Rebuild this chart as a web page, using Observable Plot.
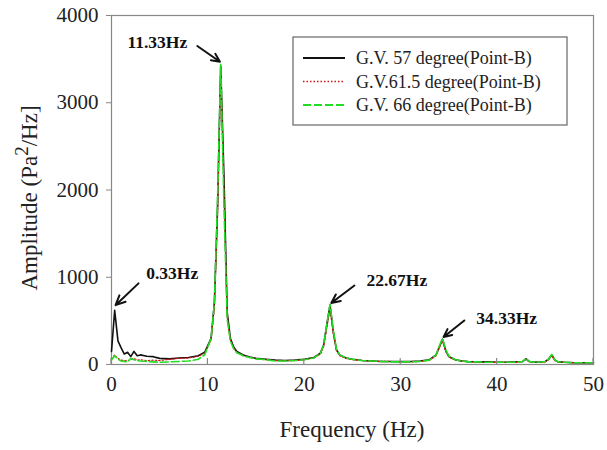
<!DOCTYPE html>
<html><head><meta charset="utf-8">
<script src="https://cdn.jsdelivr.net/npm/d3@7"></script>
<script src="https://cdn.jsdelivr.net/npm/@observablehq/plot@0.6"></script>
<style>body{margin:0;background:#fff} svg text{font-family:"Liberation Serif","Times New Roman",serif}</style>
</head><body><div id="chart"></div>
<script>
const freq = [0,0.33,0.67,1,1.33,1.67,2,2.33,2.67,3,3.67,4.33,5,6,7,8,9,9.67,10.33,10.67,11,11.33,11.67,12,12.33,12.67,13,13.67,14.33,15,16,17,18,19,20,21,21.67,22,22.33,22.67,23,23.33,23.67,24.33,25,26,27,28,29,30,31,32,33,33.67,34,34.33,34.67,35,35.67,36.33,37,38,39,40,41,42,42.67,43,43.33,44,45,45.33,45.67,46,46.33,47,48,49,50];
const amp57 = [150,620,270,190,120,140,90,150,100,110,95,90,70,65,75,80,100,140,300,700,1800,3420,2140,600,300,200,150,110,85,70,60,50,45,50,60,80,130,220,450,680,380,170,110,75,60,45,40,35,35,35,35,40,55,110,200,290,160,90,55,40,35,30,30,25,25,30,35,65,35,25,35,60,110,50,30,25,20,20,20];
const amp615 = [60,110,70,50,45,40,60,70,50,55,45,50,45,60,70,75,95,130,280,650,1700,3400,1950,550,280,190,140,100,80,65,55,45,45,45,55,75,120,200,420,640,360,160,100,70,55,45,40,35,35,30,30,35,50,100,190,270,150,85,50,40,30,30,25,25,25,25,35,60,30,25,30,55,100,45,30,25,20,20,20];
const amp66 = [50,100,60,40,35,30,70,55,45,40,35,30,25,30,35,40,60,110,300,700,1900,3440,1800,520,270,180,135,100,80,65,55,40,40,45,55,75,130,220,460,690,400,180,110,75,60,45,40,35,30,30,30,35,50,110,210,300,170,95,55,40,30,30,25,25,25,25,35,70,35,25,35,60,115,50,30,25,20,20,20];
const seriesNames = ["G.V. 57 degree(Point-B)","G.V.61.5 degree(Point-B)","G.V. 66 degree(Point-B)"];
const xTicks = [0,10,20,30,40,50];
const yTicks = [0,1000,2000,3000,4000];
const annLabels = ["0.33Hz","11.33Hz","22.67Hz","34.33Hz"];
const annTextX = [6.3,4.75,29.6,41.0];
const annTextY = [1040,3690,960,525];
const annFromX = [2.8,8.9,25.2,36.6];
const annFromY = [930,3650,905,505];
const annToX = [0.42,11.25,22.8,34.45];
const annToY = [680,3470,705,315];

const styles = [
  {stroke:"#111", strokeWidth:1.6, dash:null},
  {stroke:"#d01010", strokeWidth:1.2, dash:"1.5,2"},
  {stroke:"#22dd22", strokeWidth:1.6, dash:"8,3"}
];
const allSeries = [amp57, amp615, amp66];
const rows = (vals) => freq.map((f,i)=>({f, a: vals[i]}));
const ann = annLabels.map((t,i)=>({t, tx:annTextX[i], ty:annTextY[i], x1:annFromX[i], y1:annFromY[i], x2:annToX[i], y2:annToY[i]}));

const plot = Plot.plot({
  width: 607, height: 450,
  marginLeft: 111, marginRight: 14, marginTop: 15, marginBottom: 86,
  style: "font-family: 'Liberation Serif', serif; font-size: 21px; color: #222; background: #fff;",
  x: {domain: [0,50]},
  y: {domain: [0,4000]},
  marks: [
    Plot.frame({stroke:"#888", strokeWidth:1.2}),
    ...allSeries.map((vals,k)=>Plot.line(rows(vals), {x:"f", y:"a", stroke:styles[k].stroke, strokeWidth:styles[k].strokeWidth, strokeDasharray:styles[k].dash, curve:"linear"})),
    Plot.axisY({ticks: yTicks, tickFormat: d3.format("d"), tickSize: 5, tickPadding: 8, label: null, stroke:"#888", fontSize: 21}),
    Plot.axisX({ticks: xTicks, tickFormat: d3.format("d"), tickSize: 0, tickPadding: 12, label: null, fontSize: 21}),
    Plot.arrow(ann, {x1:"x1", y1:"y1", x2:"x2", y2:"y2", stroke:"#111", strokeWidth:2, headLength:9, headAngle:50}),
    Plot.text(ann, {x:"tx", y:"ty", text:"t", fontWeight:"bold", fontSize:17.5, fill:"#111"})
  ]
});
document.getElementById("chart").appendChild(plot);

const svg = d3.select(plot);
const xs = plot.scale("x"), ys = plot.scale("y");
// inward x ticks
svg.append("g").selectAll("line").data(xTicks).join("line")
  .attr("x1", d=>xs.apply(d)).attr("x2", d=>xs.apply(d))
  .attr("y1", ys.apply(0)).attr("y2", ys.apply(0)-6)
  .attr("stroke","#888").attr("stroke-width",1.2);

// axis titles
svg.append("text").attr("x", (xs.range[0]+xs.range[1])/2).attr("y", 437)
  .attr("text-anchor","middle").attr("font-size",23).attr("fill","#222")
  .text("Frequency (Hz)");
const yt = svg.append("text").attr("transform","translate(37,198) rotate(-90)")
  .attr("text-anchor","middle").attr("font-size",23).attr("fill","#222");
yt.append("tspan").text("Amplitude (Pa");
yt.append("tspan").attr("dy",-9).attr("font-size",19).text("2");
yt.append("tspan").attr("dy",9).text("/Hz]");

// legend
const lg = svg.append("g").attr("transform","translate(293,37)").attr("text-anchor","start");
lg.append("rect").attr("width",274).attr("height",88).attr("fill","#fff").attr("stroke","#666").attr("stroke-width",1.2);
seriesNames.forEach((name,i)=>{
  const y = 21 + i*23.5;
  lg.append("line").attr("x1",10).attr("x2",52).attr("y1",y).attr("y2",y)
    .attr("stroke",styles[i].stroke).attr("stroke-width",styles[i].strokeWidth+0.4)
    .attr("stroke-dasharray",styles[i].dash);
  lg.append("text").attr("x",63).attr("y",y).attr("dy","0.35em").attr("font-size",18)
    .attr("text-anchor","start").attr("fill","#222").text(name);
});
</script></body></html>
